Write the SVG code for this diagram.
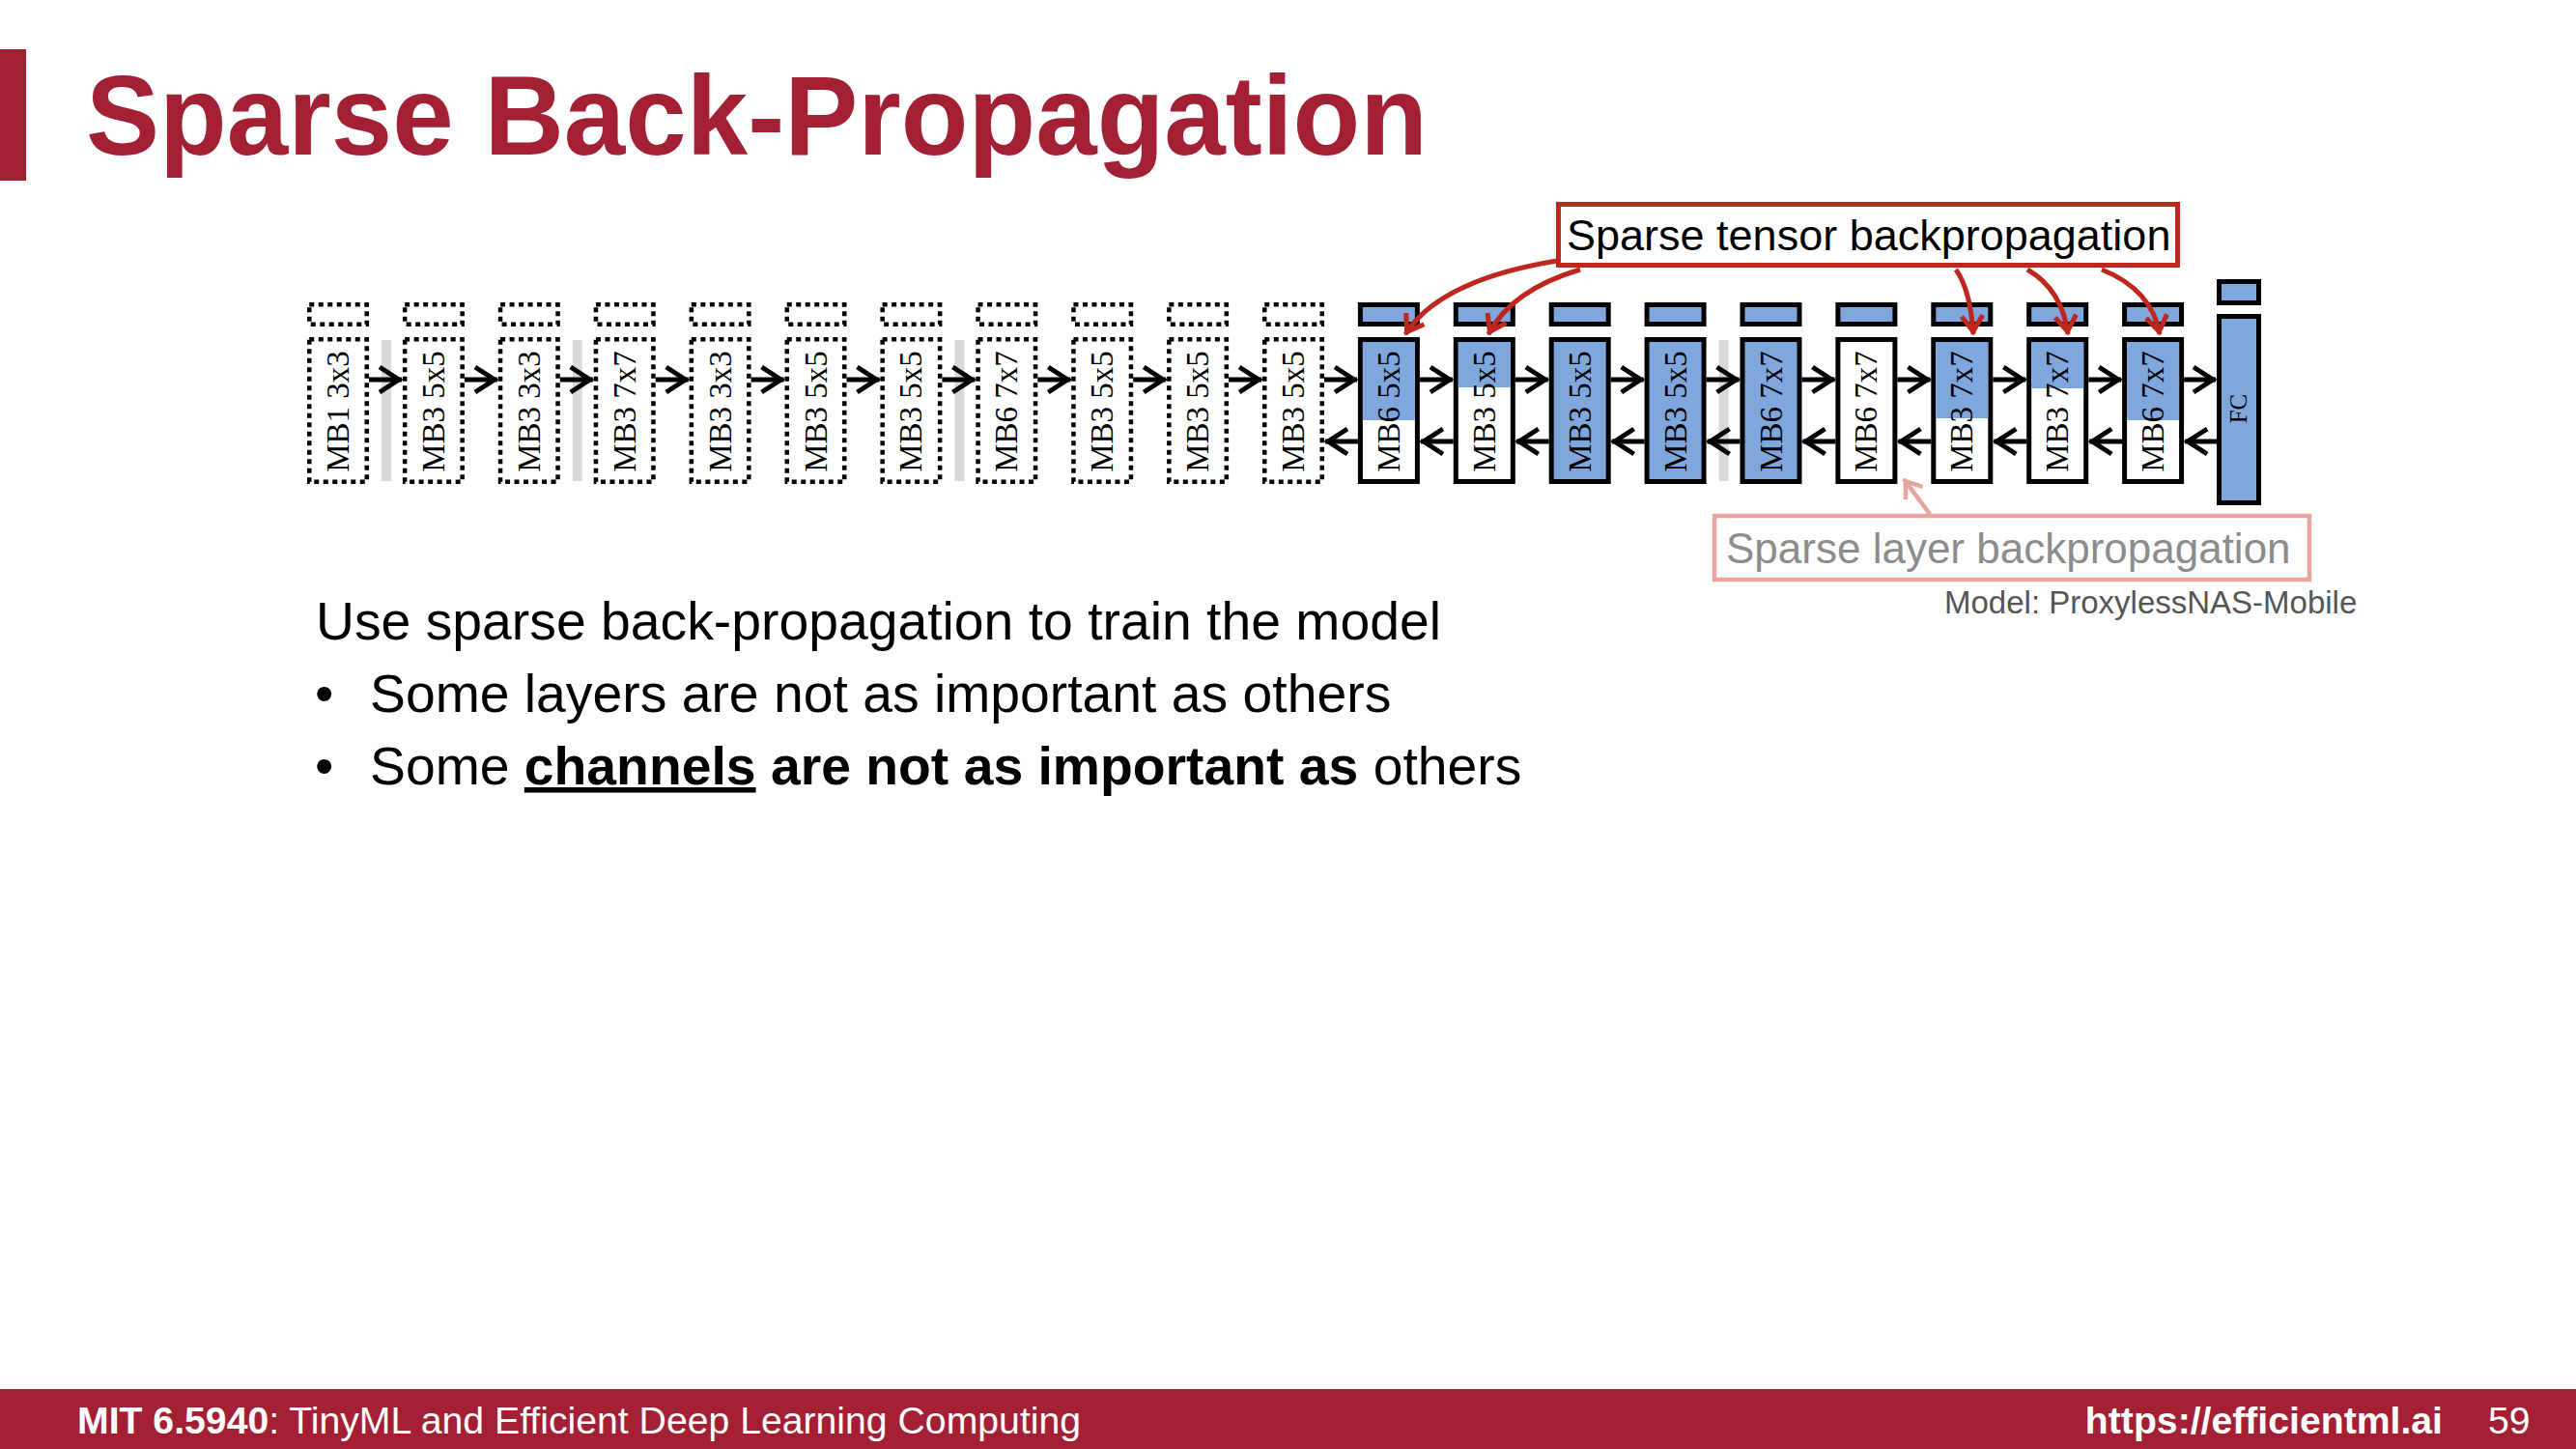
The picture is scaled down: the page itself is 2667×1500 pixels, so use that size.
<svg xmlns="http://www.w3.org/2000/svg" width="2667" height="1500" viewBox="0 0 2667 1500">
  <style>
    .sans { font-family: "Liberation Sans", Arial, Helvetica, sans-serif; }
    .title { font-weight: bold; font-size: 116px; fill: #a31f34; }
    .blk { font-family: "Liberation Serif", "Times New Roman", serif; font-size: 33px; fill: #000; text-anchor: middle; }
    .dot { fill: #fff; stroke: #000; stroke-width: 4.5; stroke-dasharray: 5 4.5; }
    .box { fill: #fff; stroke: #000; stroke-width: 5; }
    .boxb { fill: #7fa7dd; stroke: #000; stroke-width: 5; }
    .fillb { fill: #7fa7dd; }
    .sep { fill: #d9d9d9; }
    .flow { fill: none; stroke: #000; stroke-width: 5; marker-end: url(#chev); }
    .red { fill: none; stroke: #bd271d; stroke-width: 5; marker-end: url(#redchev); }
    .pink { fill: none; stroke: #e6a3a0; stroke-width: 4.5; marker-end: url(#pinkchev); }
    .body { font-size: 55.3px; fill: #000; }
    .foot { font-size: 39.2px; fill: #fff; }
  </style>
  <defs>
    <marker id="chev" markerUnits="userSpaceOnUse" viewBox="0 0 30 30" markerWidth="30" markerHeight="30" refX="25" refY="15" orient="auto" overflow="visible">
      <path d="M2,2 L22,15 L2,28" fill="none" stroke="#000" stroke-width="5"/>
    </marker>
    <marker id="redchev" markerUnits="userSpaceOnUse" viewBox="0 0 26 26" markerWidth="26" markerHeight="26" refX="21" refY="13" orient="auto" overflow="visible">
      <path d="M2,2 L18,13 L2,24" fill="none" stroke="#bd271d" stroke-width="5"/>
    </marker>
    <marker id="pinkchev" markerUnits="userSpaceOnUse" viewBox="0 0 26 26" markerWidth="26" markerHeight="26" refX="20" refY="13" orient="auto" overflow="visible">
      <path d="M2,2 L17,13 L2,24" fill="none" stroke="#e6a3a0" stroke-width="4.5"/>
    </marker>
  </defs>

  <rect x="0" y="0" width="2667" height="1500" fill="#fff"/>

  <!-- header -->
  <rect x="0" y="51" width="27" height="136" fill="#a31f34"/>
  <text class="sans title" x="89" y="160" textLength="1389" lengthAdjust="spacingAndGlyphs">Sparse Back-Propagation</text>

  <!-- stage separators -->
  <g id="stage-separators">
    <rect class="sep" x="395" y="352" width="10" height="146"/>
    <rect class="sep" x="592.8" y="352" width="10" height="146"/>
    <rect class="sep" x="988.4" y="352" width="10" height="146"/>
    <rect class="sep" x="1779.6" y="352" width="10" height="146"/>
  </g>

  <!-- frozen blocks (dotted) -->
  <g id="b0" transform="translate(318,0)"><rect class="dot" x="2.25" y="315.25" width="59.5" height="20.5"/><rect class="dot" x="2.25" y="351.25" width="59.5" height="147.5"/><text class="blk" transform="translate(43,426) rotate(-90)">MB1 3x3</text></g>
  <g id="b1" transform="translate(416.9,0)"><rect class="dot" x="2.25" y="315.25" width="59.5" height="20.5"/><rect class="dot" x="2.25" y="351.25" width="59.5" height="147.5"/><text class="blk" transform="translate(43,426) rotate(-90)">MB3 5x5</text></g>
  <g id="b2" transform="translate(515.8,0)"><rect class="dot" x="2.25" y="315.25" width="59.5" height="20.5"/><rect class="dot" x="2.25" y="351.25" width="59.5" height="147.5"/><text class="blk" transform="translate(43,426) rotate(-90)">MB3 3x3</text></g>
  <g id="b3" transform="translate(614.7,0)"><rect class="dot" x="2.25" y="315.25" width="59.5" height="20.5"/><rect class="dot" x="2.25" y="351.25" width="59.5" height="147.5"/><text class="blk" transform="translate(43,426) rotate(-90)">MB3 7x7</text></g>
  <g id="b4" transform="translate(713.6,0)"><rect class="dot" x="2.25" y="315.25" width="59.5" height="20.5"/><rect class="dot" x="2.25" y="351.25" width="59.5" height="147.5"/><text class="blk" transform="translate(43,426) rotate(-90)">MB3 3x3</text></g>
  <g id="b5" transform="translate(812.5,0)"><rect class="dot" x="2.25" y="315.25" width="59.5" height="20.5"/><rect class="dot" x="2.25" y="351.25" width="59.5" height="147.5"/><text class="blk" transform="translate(43,426) rotate(-90)">MB3 5x5</text></g>
  <g id="b6" transform="translate(911.4,0)"><rect class="dot" x="2.25" y="315.25" width="59.5" height="20.5"/><rect class="dot" x="2.25" y="351.25" width="59.5" height="147.5"/><text class="blk" transform="translate(43,426) rotate(-90)">MB3 5x5</text></g>
  <g id="b7" transform="translate(1010.3,0)"><rect class="dot" x="2.25" y="315.25" width="59.5" height="20.5"/><rect class="dot" x="2.25" y="351.25" width="59.5" height="147.5"/><text class="blk" transform="translate(43,426) rotate(-90)">MB6 7x7</text></g>
  <g id="b8" transform="translate(1109.2,0)"><rect class="dot" x="2.25" y="315.25" width="59.5" height="20.5"/><rect class="dot" x="2.25" y="351.25" width="59.5" height="147.5"/><text class="blk" transform="translate(43,426) rotate(-90)">MB3 5x5</text></g>
  <g id="b9" transform="translate(1208.1,0)"><rect class="dot" x="2.25" y="315.25" width="59.5" height="20.5"/><rect class="dot" x="2.25" y="351.25" width="59.5" height="147.5"/><text class="blk" transform="translate(43,426) rotate(-90)">MB3 5x5</text></g>
  <g id="b10" transform="translate(1307,0)"><rect class="dot" x="2.25" y="315.25" width="59.5" height="20.5"/><rect class="dot" x="2.25" y="351.25" width="59.5" height="147.5"/><text class="blk" transform="translate(43,426) rotate(-90)">MB3 5x5</text></g>

  <!-- trained blocks (solid), blue = updated part -->
  <g id="b11" transform="translate(1405.9,0)"><rect class="boxb" x="2.5" y="315.5" width="59" height="20"/><rect class="box" x="2.5" y="351.5" width="59" height="147"/><rect class="fillb" x="5" y="354" width="54" height="81"/><text class="blk" transform="translate(43,426) rotate(-90)">MB6 5x5</text></g>
  <g id="b12" transform="translate(1504.8,0)"><rect class="boxb" x="2.5" y="315.5" width="59" height="20"/><rect class="box" x="2.5" y="351.5" width="59" height="147"/><rect class="fillb" x="5" y="354" width="54" height="47"/><text class="blk" transform="translate(43,426) rotate(-90)">MB3 5x5</text></g>
  <g id="b13" transform="translate(1603.7,0)"><rect class="boxb" x="2.5" y="315.5" width="59" height="20"/><rect class="boxb" x="2.5" y="351.5" width="59" height="147"/><text class="blk" transform="translate(43,426) rotate(-90)">MB3 5x5</text></g>
  <g id="b14" transform="translate(1702.6,0)"><rect class="boxb" x="2.5" y="315.5" width="59" height="20"/><rect class="boxb" x="2.5" y="351.5" width="59" height="147"/><text class="blk" transform="translate(43,426) rotate(-90)">MB3 5x5</text></g>
  <g id="b15" transform="translate(1801.5,0)"><rect class="boxb" x="2.5" y="315.5" width="59" height="20"/><rect class="boxb" x="2.5" y="351.5" width="59" height="147"/><text class="blk" transform="translate(43,426) rotate(-90)">MB6 7x7</text></g>
  <g id="b16" transform="translate(1900.4,0)"><rect class="boxb" x="2.5" y="315.5" width="59" height="20"/><rect class="box" x="2.5" y="351.5" width="59" height="147"/><text class="blk" transform="translate(43,426) rotate(-90)">MB6 7x7</text></g>
  <g id="b17" transform="translate(1999.3,0)"><rect class="boxb" x="2.5" y="315.5" width="59" height="20"/><rect class="box" x="2.5" y="351.5" width="59" height="147"/><rect class="fillb" x="5" y="354" width="54" height="79"/><text class="blk" transform="translate(43,426) rotate(-90)">MB3 7x7</text></g>
  <g id="b18" transform="translate(2098.2,0)"><rect class="boxb" x="2.5" y="315.5" width="59" height="20"/><rect class="box" x="2.5" y="351.5" width="59" height="147"/><rect class="fillb" x="5" y="354" width="54" height="48"/><text class="blk" transform="translate(43,426) rotate(-90)">MB3 7x7</text></g>
  <g id="b19" transform="translate(2197.1,0)"><rect class="boxb" x="2.5" y="315.5" width="59" height="20"/><rect class="box" x="2.5" y="351.5" width="59" height="147"/><rect class="fillb" x="5" y="354" width="54" height="81"/><text class="blk" transform="translate(43,426) rotate(-90)">MB6 7x7</text></g>
  <g id="fc" transform="translate(2295,0)"><rect class="boxb" x="2.5" y="291.5" width="41" height="22"/><rect class="boxb" x="2.5" y="327.5" width="41" height="193"/><text class="blk" style="font-size:25px" transform="translate(31,423) rotate(-90)">FC</text></g>

  <!-- callouts -->
  <g id="tensor-label">
    <rect x="1613.5" y="211.5" width="641" height="63" fill="#fff" stroke="#bd271d" stroke-width="5"/>
    <text class="sans" x="1622" y="259" font-size="45" fill="#000">Sparse tensor backpropagation</text>
  </g>
  <g id="layer-label">
    <rect x="1775" y="534" width="616" height="66" fill="#fff" stroke="#e6a3a0" stroke-width="4.5"/>
    <text class="sans" x="1787" y="583" font-size="44" fill="#8c8c8c">Sparse layer backpropagation</text>
  </g>
  <text class="sans" x="2013" y="635" font-size="33" fill="#555">Model: ProxylessNAS-Mobile</text>

  <g id="connectors">
    <!-- forward pass -->
    <path class="flow" d="M382,393 H416"/>
    <path class="flow" d="M480.9,393 H514.9"/>
    <path class="flow" d="M579.8,393 H613.8"/>
    <path class="flow" d="M678.7,393 H712.7"/>
    <path class="flow" d="M777.6,393 H811.6"/>
    <path class="flow" d="M876.5,393 H910.5"/>
    <path class="flow" d="M975.4,393 H1009.4"/>
    <path class="flow" d="M1074.3,393 H1108.3"/>
    <path class="flow" d="M1173.2,393 H1207.2"/>
    <path class="flow" d="M1272.1,393 H1306.1"/>
    <path class="flow" d="M1371,393 H1405"/>
    <path class="flow" d="M1469.9,393 H1503.9"/>
    <path class="flow" d="M1568.8,393 H1602.8"/>
    <path class="flow" d="M1667.7,393 H1701.7"/>
    <path class="flow" d="M1766.6,393 H1800.6"/>
    <path class="flow" d="M1865.5,393 H1899.5"/>
    <path class="flow" d="M1964.4,393 H1998.4"/>
    <path class="flow" d="M2063.3,393 H2097.3"/>
    <path class="flow" d="M2162.2,393 H2196.2"/>
    <path class="flow" d="M2261.1,393 H2294"/>
    <!-- backward pass -->
    <path class="flow" d="M1405.9,457 H1372"/>
    <path class="flow" d="M1504.8,457 H1470.9"/>
    <path class="flow" d="M1603.7,457 H1569.8"/>
    <path class="flow" d="M1702.6,457 H1668.7"/>
    <path class="flow" d="M1801.5,457 H1767.6"/>
    <path class="flow" d="M1900.4,457 H1866.5"/>
    <path class="flow" d="M1999.3,457 H1965.4"/>
    <path class="flow" d="M2098.2,457 H2064.3"/>
    <path class="flow" d="M2197.1,457 H2163.2"/>
    <path class="flow" d="M2295,457 H2262.1"/>
    <!-- sparse tensor callout arrows -->
    <path class="red" d="M1612,270 Q1490,290 1455,346"/>
    <path class="red" d="M1636,279 Q1565,300 1541,346"/>
    <path class="red" d="M2025,279 Q2040,300 2043,346"/>
    <path class="red" d="M2099,279 Q2135,300 2141,346"/>
    <path class="red" d="M2176,279 Q2228,300 2236,346"/>
    <!-- sparse layer callout arrow -->
    <path class="pink" d="M1998,532 L1971,496"/>
  </g>

  <!-- body text -->
  <g id="bullets" class="sans body">
    <text x="327" y="662">Use sparse back-propagation to train the model</text>
    <text x="326" y="737">•</text>
    <text x="383" y="737">Some layers are not as important as others</text>
    <text x="326" y="812">•</text>
    <text x="383" y="812">Some <tspan font-weight="bold" text-decoration="underline">channels</tspan><tspan font-weight="bold"> are not as important as</tspan> others</text>
  </g>

  <!-- footer -->
  <rect x="0" y="1438" width="2667" height="62" fill="#a31f34"/>
  <text class="sans foot" x="80" y="1484"><tspan font-weight="bold">MIT 6.5940</tspan>: TinyML and Efficient Deep Learning Computing</text>
  <text class="sans foot" x="2529" y="1484" font-weight="bold" text-anchor="end">https://efficientml.ai</text>
  <text class="sans foot" x="2576" y="1484" font-size="34">59</text>
</svg>
